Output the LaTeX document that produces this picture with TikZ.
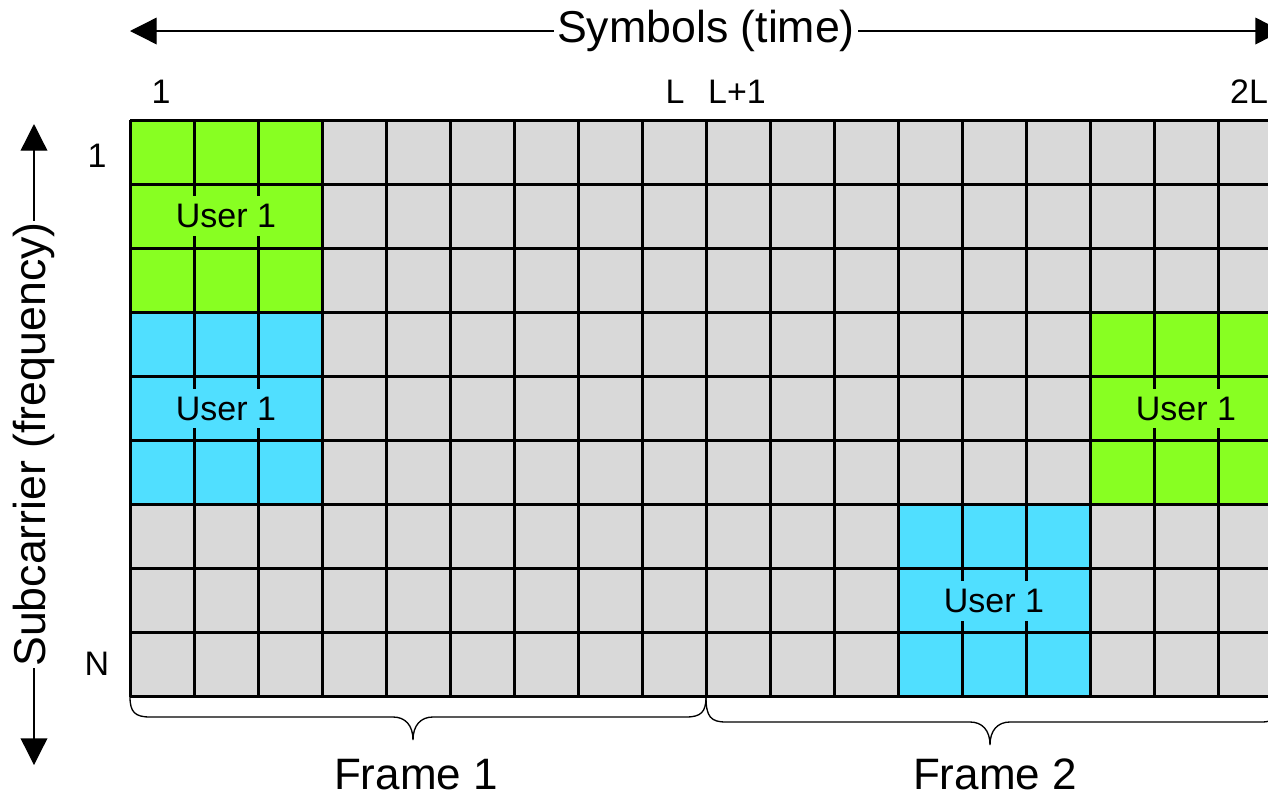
\documentclass[tikz,border=0pt]{standalone}
\usepackage{fontspec}
\setmainfont{Liberation Sans}
\usetikzlibrary{arrows.meta}
\definecolor{gridgray}{HTML}{D9D9D9}
\definecolor{ugreen}{HTML}{88FF22}
\definecolor{ucyan}{HTML}{50DFFF}
\begin{document}
\begin{tikzpicture}[x=0.75pt,y=-0.75pt,
  gridline/.style={line width=2.25pt,black},
  axisline/.style={line width=1pt,black,{Triangle[length=20pt,width=20pt]}-{Triangle[length=20pt,width=20pt]}},
  axislabel/.style={fill=white,inner sep=2pt,font=\fontsize{33.5pt}{36pt}\selectfont},
  ulabel/.style={inner xsep=2pt,inner ysep=6pt,font=\fontsize{25.5pt}{28pt}\selectfont},
  ticklabel/.style={anchor=base,inner sep=0pt,font=\fontsize{25.5pt}{28pt}\selectfont},
  bracepath/.style={line width=1pt,black},
  framelabel/.style={anchor=base,inner sep=0pt,font=\fontsize{33pt}{36pt}\selectfont}]
\useasboundingbox (0,0) rectangle (1268,797);
\clip (0,0) rectangle (1268,797);
% cells
\fill[gridgray] (130,120) rectangle (1282,697);
\fill[ugreen] (130,120) rectangle (322,312.3);
\fill[ucyan] (130,312.3) rectangle (322,504.6);
\fill[ugreen] (1090,312.3) rectangle (1282,504.6);
\fill[ucyan] (898,504.6) rectangle (1090,697);
% grid
\foreach \i in {0,...,18} \draw[gridline] ({130+\i*64},120) -- ({130+\i*64},697);
\foreach \j in {0,...,9} \draw[gridline] (130,{120+\j*64.1}) -- (1282,{120+\j*64.1});
% user labels
\node[ulabel,fill=ugreen] (ua) at (226,216.2) {User 1};
\node[ulabel,fill=ucyan] (ub) at (226,408.5) {User 1};
\node[ulabel,fill=ugreen] (uc) at (1186,408.5) {User 1};
\node[ulabel,fill=ucyan] (ud) at (994,600.8) {User 1};
% axes
\coordinate (tl) at (130,31);
\coordinate (tr) at (1282,31);
\draw[axisline] (tl) -- (tr) node[axislabel,midway] (tlab) {Symbols (time)};
\coordinate (vt) at (34,124);
\coordinate (vb) at (34,765);
\draw[axisline] (vt) -- (vb) node[axislabel,midway,rotate=90,inner sep=1pt] (vlab) {Subcarrier (frequency)};
% tick labels
\node[ticklabel] (c1) at (161,103) {1};
\node[ticklabel] (cL) at (675,103) {L};
\node[ticklabel] (cL1) at (737,103) {L+1};
\node[ticklabel] (c2L) at (1249,103) {2L};
\node[ticklabel] (r1) at (97,167) {1};
\node[ticklabel] (rN) at (97,675) {N};
% braces
\draw[bracepath] (130,697) .. controls (130,712) and (135,717) .. (150,717) -- (393,717)
  .. controls (405,717) and (413,725) .. (413,740)
  .. controls (413,725) and (421,717) .. (433,717) -- (686,717)
  .. controls (701,717) and (706,712) .. (706,697);
\draw[bracepath] (706,697) .. controls (706,717) and (711,722) .. (726,722) -- (970,722)
  .. controls (982,722) and (990,730) .. (990,745)
  .. controls (990,730) and (998,722) .. (1010,722) -- (1262,722)
  .. controls (1277,722) and (1282,712) .. (1282,697);
\node[framelabel] (f1) at (416,789) {Frame 1};
\node[framelabel] (f2) at (995,789) {Frame 2};
\end{tikzpicture}
\end{document}
